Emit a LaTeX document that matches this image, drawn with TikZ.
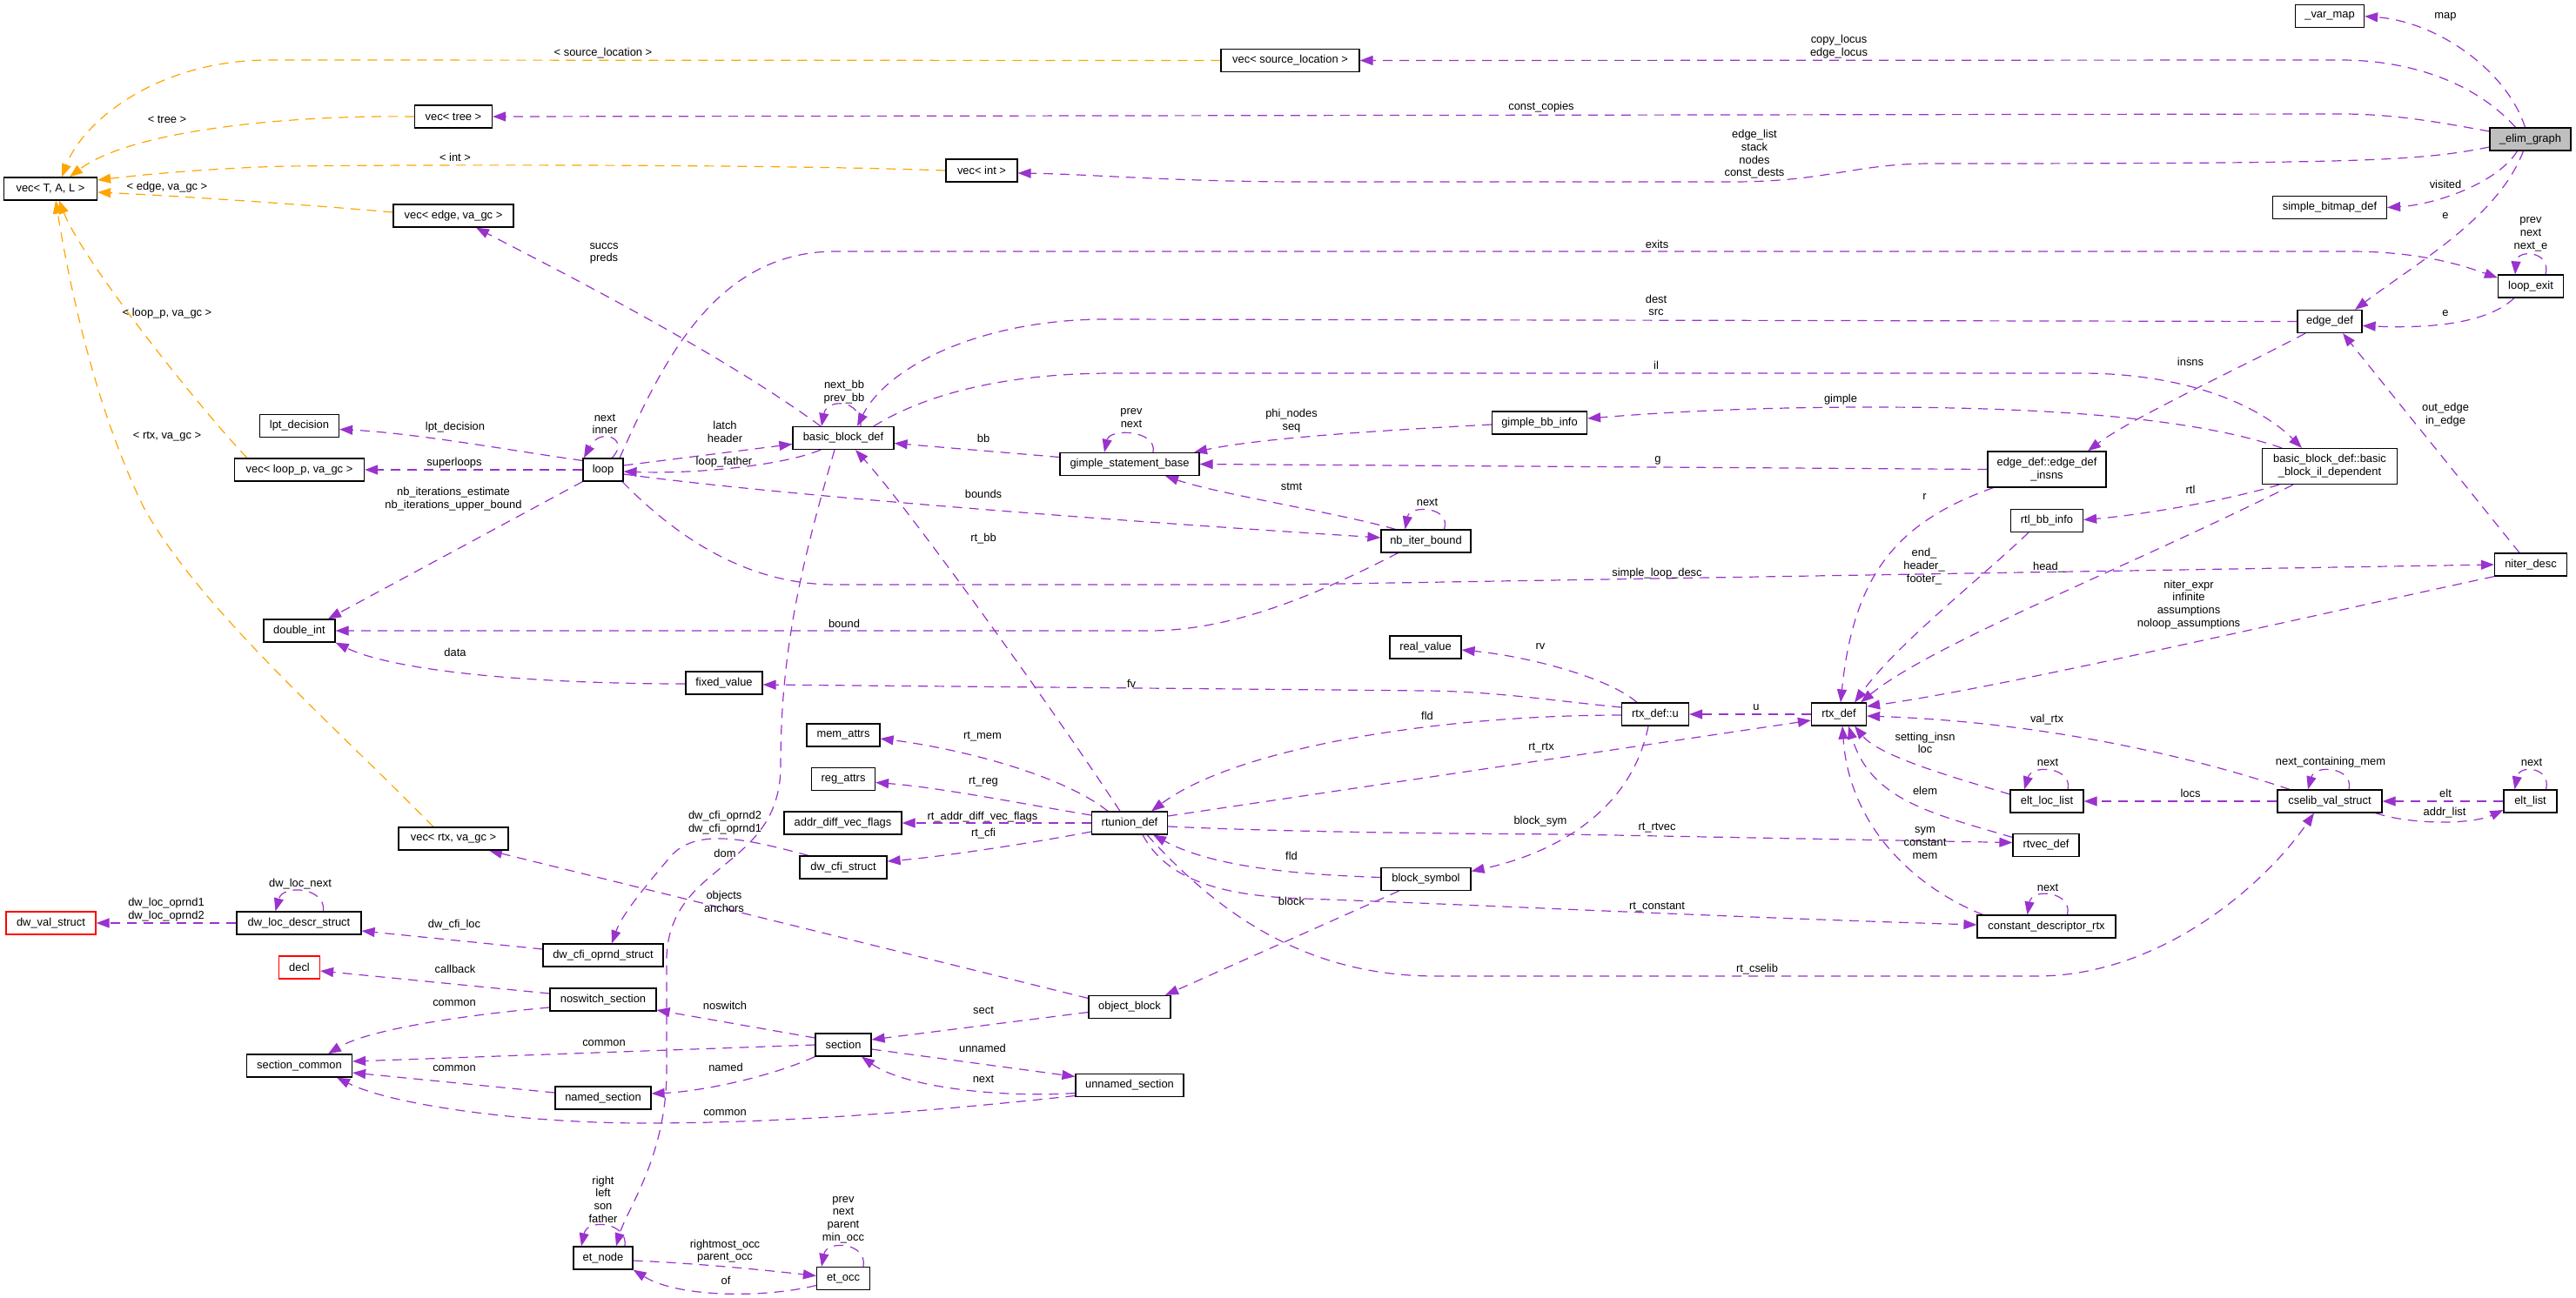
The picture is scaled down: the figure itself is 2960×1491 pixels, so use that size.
\documentclass[tikz,border=0pt]{standalone}
\usepackage{fontspec}
\setmainfont{Liberation Sans}
\usetikzlibrary{arrows.meta,backgrounds}
\definecolor{edgep}{HTML}{9A32CD}
\definecolor{edgeo}{HTML}{FFA500}
\definecolor{rootg}{HTML}{BFBFBF}
\newcommand{\gfont}{\fontsize{12.9}{14.7}\selectfont}
\tikzset{
 cls/.style={draw=black, line width=1.2pt, fill=white, minimum height=26pt, inner sep=0pt, font=\gfont, align=center},
 lbl/.style={font=\gfont, align=center, inner sep=0pt},
 pe/.style={draw=edgep, line width=1.2pt, dash pattern=on 11pt off 8pt, -{Triangle[length=15pt,width=11pt,fill=edgep]}},
 oe/.style={draw=edgeo, line width=1.2pt, dash pattern=on 11pt off 8pt, -{Triangle[length=15pt,width=11pt,fill=edgeo]}},
}
\begin{document}
\begin{tikzpicture}[x=1pt,y=-1pt]
\useasboundingbox (0,0) rectangle (2960,1491);
% ---------- classes ----------
\node[cls, minimum width=107pt] (vtal) at (58,217) {vec< T, A, L >};
\node[cls, minimum width=89pt] (vtree) at (521,134) {vec< tree >};
\node[cls, minimum width=159pt] (vsl) at (1482.5,69.5) {vec< source\_location >};
\node[cls, minimum width=82pt] (vint) at (1128,196) {vec< int >};
\node[cls, minimum width=138pt] (vedge) at (521,248) {vec< edge, va\_gc >};
\node[cls, minimum width=149pt] (vloop) at (344,540) {vec< loop\_p, va\_gc >};
\node[cls, minimum width=126pt] (vrtx) at (521,964) {vec< rtx, va\_gc >};
\node[cls, minimum width=91pt] (lpt) at (344,489.5) {lpt\_decision};
\node[cls, minimum width=46pt] (loop) at (693,540) {loop};
\node[cls, minimum width=82pt] (dint) at (344,725) {double\_int};
\node[cls, minimum width=116pt] (bbd) at (969,503.5) {basic\_block\_def};
\node[cls, minimum width=160pt] (gsb) at (1298,533.5) {gimple\_statement\_base};
\node[cls, minimum width=109pt] (gbi) at (1769,486) {gimple\_bb\_info};
\node[cls, minimum width=79pt] (varmap) at (2677,18.7) {\_var\_map};
\node[cls, minimum width=93pt, fill=rootg] (elim) at (2907.5,160) {\_elim\_graph};
\node[cls, minimum width=131pt] (sbd) at (2677,238.5) {simple\_bitmap\_def};
\node[cls, minimum width=75pt] (lexit) at (2908,329) {loop\_exit};
\node[cls, minimum width=74pt] (edef) at (2677,369.5) {edge\_def};
\node[cls, minimum width=136pt, minimum height=41pt] (edi) at (2352,539.5) {edge\_def::edge\_def\\\_insns};
\node[cls, minimum width=155pt, minimum height=41pt] (bbil) at (2677,536) {basic\_block\_def::basic\\\_block\_il\_dependent};
\node[cls, minimum width=83pt] (rtlbb) at (2352,598.5) {rtl\_bb\_info};
\node[cls, minimum width=83pt] (niter) at (2908,649) {niter\_desc};
\node[cls, minimum width=103pt] (nbib) at (1638.5,622) {nb\_iter\_bound};
\node[cls, minimum width=82pt] (realv) at (1638,744) {real\_value};
\node[cls, minimum width=77pt] (rtxu) at (1902,821) {rtx\_def::u};
\node[cls, minimum width=63pt] (rtx) at (2113,821) {rtx\_def};
\node[cls, minimum width=103pt] (bsym) at (1638.5,1010.5) {block\_symbol};
\node[cls, minimum width=88pt] (fixv) at (832,785) {fixed\_value};
\node[cls, minimum width=84pt] (mem) at (969,845) {mem\_attrs};
\node[cls, minimum width=73pt] (reg) at (969,895.5) {reg\_attrs};
\node[cls, minimum width=135pt] (adv) at (968.5,946) {addr\_diff\_vec\_flags};
\node[cls, minimum width=100pt] (dwcfi) at (969,997) {dw\_cfi\_struct};
\node[cls, minimum width=87pt] (rtu) at (1298,946) {rtunion\_def};
\node[cls, minimum width=84pt] (eltloc) at (2352,921) {elt\_loc\_list};
\node[cls, minimum width=120pt] (cselib) at (2677,921) {cselib\_val\_struct};
\node[cls, minimum width=61pt] (eltl) at (2907.5,921) {elt\_list};
\node[cls, minimum width=76pt] (rtvec) at (2351,971.5) {rtvec\_def};
\node[cls, minimum width=159pt] (cdr) at (2351.5,1065) {constant\_descriptor\_rtx};
\node[cls, minimum width=103pt, draw=red] (dwval) at (58.5,1061) {dw\_val\_struct};
\node[cls, minimum width=143pt] (dwloc) at (343.5,1061) {dw\_loc\_descr\_struct};
\node[cls, minimum width=47pt, draw=red] (decl) at (344,1112) {decl};
\node[cls, minimum width=121pt] (secc) at (344,1225) {section\_common};
\node[cls, minimum width=138pt] (dwop) at (693,1098) {dw\_cfi\_oprnd\_struct};
\node[cls, minimum width=122pt] (nosw) at (693,1149) {noswitch\_section};
\node[cls, minimum width=110pt] (named) at (693,1262) {named\_section};
\node[cls, minimum width=68pt] (etn) at (693,1446) {et\_node};
\node[cls, minimum width=94pt] (objb) at (1298,1157.5) {object\_block};
\node[cls, minimum width=64pt] (sect) at (969,1201) {section};
\node[cls, minimum width=124pt] (unsec) at (1298,1247.5) {unnamed\_section};
\node[cls, minimum width=61pt] (eto) at (969,1469.5) {et\_occ};
% ---------- connectors ----------
\begin{pgfonlayer}{background}
\fill[white] (0,0) rectangle (2960,1491);
% orange template instances
\draw[oe] (vsl.west) -- (310,69) .. controls (180,69) and (95,140) .. ([xshift=13pt]vtal.north);
\draw[oe] (vtree.west) .. controls (330,132) and (150,150) .. ([xshift=22pt]vtal.north);
\draw[oe] (vint.west) .. controls (900,189) and (500,189) .. (330,191) .. controls (250,193) and (170,200) .. ([yshift=10pt]vtal.east);
\draw[oe] ([yshift=4pt]vedge.west) .. controls (350,235) and (200,225) .. ([yshift=-4pt]vtal.east);
\draw[oe] ([xshift=-60pt]vloop.north) .. controls (230,470) and (95,300) .. ([xshift=10pt]vtal.south);
\draw[oe] ([xshift=-23pt]vrtx.north) .. controls (380,830) and (230,700) .. (165,583) .. controls (110,470) and (80,330) .. ([xshift=6pt]vtal.south);
% _elim_graph
\draw[pe] ([xshift=-6pt]elim.north) .. controls (2880,80) and (2800,25) .. (varmap.east);
\draw[pe] ([xshift=-17pt]elim.north) .. controls (2840,90) and (2760,69) .. (2690,69) -- (vsl.east);
\draw[pe] ([yshift=9pt]elim.west) .. controls (2800,140) and (2750,131) .. (2690,131) -- (vtree.east);
\draw[pe] ([yshift=-9pt]elim.west) .. controls (2780,185) and (2720,188) .. (2220,188) .. controls (2130,188) and (2100,209) .. (1990,209) -- (1500,209) .. controls (1350,209) and (1250,200) .. ([yshift=-3pt]vint.east);
\draw[pe] ([xshift=-15pt]elim.south) .. controls (2870,210) and (2800,235) .. (sbd.east);
\draw[pe] ([xshift=-8pt]elim.south) .. controls (2870,250) and (2780,300) .. ([xshift=29pt]edef.north);
% loop / loop_exit / edge_def
\draw[pe] ([xshift=19pt]loop.north) .. controls (760,420) and (820,289) .. (960,289) -- (2700,289) .. controls (2780,289) and (2830,305) .. ([yshift=-4pt]lexit.north west);
\draw[pe] ([xshift=17pt]lexit.north) .. controls (2932,288) and (2892,286) .. ([xshift=-18pt]lexit.north);
\draw[pe] ([xshift=-19pt]lexit.south) .. controls (2860,370) and (2800,378) .. ([yshift=-5pt]edef.east);
\draw[pe] ([xshift=-26pt]bbd.north) .. controls (820,400) and (620,300) .. ([xshift=26pt]vedge.south);
\draw[pe] (edef.west) -- (1270,367) .. controls (1130,367) and (1020,420) .. ([xshift=16pt]bbd.north);
\draw[pe] ([xshift=20pt]bbd.north) .. controls (990,458) and (950,458) .. ([xshift=-25pt]bbd.north);
\draw[pe] ([xshift=35pt]bbd.north) .. controls (1060,455) and (1150,429) .. (1280,429) -- (2390,429) .. controls (2520,429) and (2600,470) .. ([xshift=-32pt]bbil.north);
\draw[pe] ([xshift=-55pt]bbil.north) .. controls (2520,480) and (2350,468) .. (2150,468) .. controls (2000,468) and (1900,475) .. ([yshift=5pt]gbi.east);
\draw[pe] ([xshift=-28pt]edef.south) .. controls (2580,420) and (2450,480) .. ([xshift=47pt]edi.north);
\draw[pe] ([xshift=-13pt]niter.north) -- ([xshift=15pt]edef.south);
% loop
\draw[pe] ([yshift=-3pt]loop.north west) .. controls (600,520) and (480,498) .. ([yshift=-4pt]lpt.east);
\draw[pe] ([xshift=10pt]loop.north) .. controls (725,505) and (690,490) .. ([xshift=-22pt]loop.north);
\draw[pe] (loop.west) -- (vloop.east);
\draw[pe] ([yshift=5pt]loop.east) -- ([yshift=-7pt]bbd.west);
\draw[pe] ([xshift=-26pt]bbd.south) .. controls (900,535) and (800,545) .. ([yshift=-2pt]loop.east);
\draw[pe] ([yshift=8pt]gsb.west) -- ([yshift=-6pt]bbd.east);
\draw[pe] ([xshift=27pt]gsb.north) .. controls (1330,494) and (1275,492) .. ([xshift=-29pt]gsb.north);
\draw[pe] ([yshift=-2pt]gbi.west) .. controls (1600,494) and (1450,503) .. ([xshift=74pt]gsb.north);
\draw[pe] (edi.west) -- (gsb.east);
\draw[pe] ([xshift=-35pt]nbib.north) .. controls (1540,590) and (1400,568) .. ([xshift=41pt]gsb.south);
\draw[pe] ([xshift=21pt]nbib.north) .. controls (1668,582) and (1620,580) .. ([xshift=-24pt]nbib.north);
\draw[pe] ([yshift=-5pt]loop.east) .. controls (900,570) and (1300,600) .. ([yshift=4pt]nbib.west);
\draw[pe] ([xshift=-11pt]rtu.north) .. controls (1200,800) and (1040,580) .. ([xshift=14pt]bbd.south);
\draw[pe] ([xshift=22pt]loop.south) .. controls (780,620) and (860,672) .. (960,672) -- (1480,672) -- (niter.west);
\draw[pe] ([xshift=-32pt]nbib.south) .. controls (1520,680) and (1420,725) .. (1320,725) -- (dint.east);
\draw[pe] (loop.south west) -- ([xshift=33pt]dint.north);
\draw[pe] ([yshift=-1pt]fixv.west) .. controls (600,786) and (450,770) .. (dint.south east);
% rtx family
\draw[pe] ([yshift=8pt]rtxu.west) .. controls (1780,805) and (1720,795) .. (1640,794) -- ([yshift=-2pt]fixv.east);
\draw[pe] ([xshift=-21pt]rtxu.north) .. controls (1850,780) and (1760,755) .. ([yshift=-3pt]realv.east);
\draw[pe] (rtx.west) -- (rtxu.east);
\draw[pe] ([yshift=8pt]rtu.east) -- ([yshift=-7pt]rtx.west);
\draw[pe] ([yshift=-1pt]rtxu.west) .. controls (1650,822) and (1420,860) .. ([xshift=25pt]rtu.north);
\draw[pe] ([xshift=-25pt]rtu.north) .. controls (1220,890) and (1100,860) .. ([yshift=-4pt]mem.east);
\draw[pe] ([yshift=9pt]rtu.west) .. controls (1180,925) and (1080,905) .. ([yshift=-4pt]reg.east);
\draw[pe] (rtu.west) -- (adv.east);
\draw[pe] ([yshift=-10pt]rtu.west) .. controls (1180,970) and (1080,985) .. ([yshift=7pt]dwcfi.east);
\draw[pe] ([yshift=-4pt]rtu.east) .. controls (1450,955) and (1600,958) .. (1800,959) -- ([yshift=3pt]rtvec.west);
\draw[pe] ([xshift=15pt]rtu.south) .. controls (1340,1010) and (1400,1030) .. (1500,1033) .. controls (1700,1040) and (2000,1055) .. ([yshift=2pt]cdr.west);
\draw[pe] ([xshift=20pt]rtu.south) .. controls (1400,1050) and (1500,1122) .. (1650,1122) -- (2340,1122) .. controls (2480,1122) and (2600,1020) .. ([xshift=-18pt]cselib.south);
\draw[pe] ([xshift=-8pt]rtxu.south) .. controls (1875,930) and (1790,980) .. ([yshift=9pt]bsym.east);
\draw[pe] ([yshift=2pt]bsym.west) .. controls (1480,1005) and (1390,995) .. ([xshift=27pt]rtu.south);
\draw[pe] ([xshift=-31pt]bsym.south) -- ([xshift=41pt]objb.north);
% sections
\draw[pe] ([yshift=10pt]objb.west) -- ([xshift=41pt]vrtx.south);
\draw[pe] ([yshift=-6pt]objb.west) -- ([yshift=6pt]sect.east);
\draw[pe] ([yshift=8pt]sect.west) -- ([yshift=-12pt]nosw.east);
\draw[pe] (sect.south west) .. controls (880,1240) and (800,1255) .. ([yshift=5pt]named.east);
\draw[pe] ([yshift=-5pt]sect.east) -- ([yshift=10pt]unsec.west);
\draw[pe] ([yshift=-9pt]unsec.west) .. controls (1150,1262) and (1040,1250) .. ([xshift=21pt]sect.south);
\draw[pe] ([yshift=-12pt]unsec.west) .. controls (1000,1285) and (850,1291) .. (740,1291) .. controls (600,1291) and (450,1270) .. ([xshift=43pt]secc.south);
\draw[pe] (sect.west) -- ([yshift=5pt]secc.east);
\draw[pe] ([yshift=6pt]named.west) -- ([yshift=-8pt]secc.east);
\draw[pe] ([yshift=-9pt]nosw.west) .. controls (520,1168) and (420,1185) .. ([xshift=33pt]secc.north);
\draw[pe] ([yshift=7pt]nosw.west) -- ([yshift=-4pt]decl.east);
\draw[pe] ([yshift=7pt]dwop.west) -- ([yshift=-9pt]dwloc.east);
\draw[pe] (dwloc.west) -- (dwval.east);
\draw[pe] ([xshift=28pt]dwloc.north) .. controls (375,1020) and (325,1016) .. ([xshift=-27pt]dwloc.north);
\draw[pe] ([xshift=-40pt]dwcfi.north) .. controls (860,965) and (800,950) .. (770,985) .. controls (745,1015) and (715,1050) .. ([xshift=10pt]dwop.north);
\draw[pe] ([xshift=-10pt]bbd.south) .. controls (920,650) and (897,750) .. (897,880) .. controls (897,1000) and (770,990) .. (766,1100) -- (766,1230) .. controls (766,1330) and (720,1390) .. ([xshift=15pt]etn.north);
\draw[pe] ([xshift=25pt]etn.north) .. controls (722,1405) and (675,1400) .. ([xshift=-25pt]etn.north);
\draw[pe] ([yshift=-3pt]etn.east) .. controls (800,1452) and (880,1460) .. ([yshift=3pt]eto.west);
\draw[pe] ([yshift=-8pt]eto.west) .. controls (880,1492) and (780,1492) .. (etn.south east);
\draw[pe] ([xshift=23pt]eto.north) .. controls (997,1428) and (950,1425) .. ([xshift=-25pt]eto.north);
% right side rtx users
\draw[pe] ([xshift=-58pt]bbil.south) .. controls (2560,575) and (2460,592) .. ([yshift=1pt]rtlbb.east);
\draw[pe] ([xshift=-21pt]rtlbb.south) .. controls (2270,670) and (2180,740) .. ([xshift=18pt]rtx.north);
\draw[pe] ([xshift=7pt]edi.south west) .. controls (2180,600) and (2130,660) .. ([xshift=2pt]rtx.north);
\draw[pe] ([xshift=-42pt]bbil.south) .. controls (2450,650) and (2220,740) .. ([xshift=25pt]rtx.north);
\draw[pe] (niter.south west) .. controls (2600,720) and (2300,790) .. ([yshift=9pt]rtx.east);
\draw[pe] ([xshift=-46pt]cselib.north) .. controls (2520,870) and (2350,830) .. ([yshift=-2pt]rtx.east);
\draw[pe] ([yshift=8pt]eltloc.west) .. controls (2250,895) and (2160,870) .. ([xshift=18pt]rtx.south);
\draw[pe] ([xshift=24pt]eltloc.north) .. controls (2382,882) and (2335,878) .. ([xshift=-26pt]eltloc.north);
\draw[pe] (cselib.west) -- (eltloc.east);
\draw[pe] ([xshift=22pt]cselib.north) .. controls (2705,882) and (2660,878) .. ([xshift=-25pt]cselib.north);
\draw[pe] (eltl.west) -- (cselib.east);
\draw[pe] ([xshift=-8pt]cselib.south east) .. controls (2770,948) and (2840,948) .. ([yshift=-10pt]eltl.west);
\draw[pe] ([xshift=18pt]eltl.north) .. controls (2932,882) and (2895,878) .. ([xshift=-18pt]eltl.north);
\draw[pe] ([yshift=9pt]rtvec.west) .. controls (2220,935) and (2150,920) .. ([xshift=11pt]rtx.south);
\draw[pe] ([xshift=-73pt]cdr.north) .. controls (2200,1020) and (2125,950) .. ([xshift=4pt]rtx.south);
\draw[pe] ([xshift=24pt]cdr.north) .. controls (2382,1025) and (2335,1020) .. ([xshift=-22pt]cdr.north);
\end{pgfonlayer}
% ---------- labels ----------
\node[lbl] (l1) at (693,61) {< source\_location >};
\node[lbl] (l2) at (192,137) {< tree >};
\node[lbl] (l3) at (523,181) {< int >};
\node[lbl] (l4) at (192,215) {< edge, va\_gc >};
\node[lbl] (l5) at (192,360) {< loop\_p, va\_gc >};
\node[lbl] (l6) at (192,502) {< rtx, va\_gc >};
\node[lbl] (l7) at (2810,19) {map};
\node[lbl] (l8) at (2113,54) {copy\_locus\\edge\_locus};
\node[lbl] (l9) at (1771,123) {const\_copies};
\node[lbl] (l10) at (2016,177.5) {edge\_list\\stack\\nodes\\const\_dests};
\node[lbl] (l11) at (2810,212) {visited};
\node[lbl] (l12) at (2810,248) {e};
\node[lbl] (l13) at (1904,281) {exits};
\node[lbl] (l14) at (2908,269.5) {prev\\next\\next\_e};
\node[lbl] (l15) at (2810,360) {e};
\node[lbl] (l16) at (694,291.5) {succs\\preds};
\node[lbl] (l17) at (1903,351) {dest\\src};
\node[lbl] (l18) at (970,451) {next\_bb\\prev\_bb};
\node[lbl] (l19) at (1903,420) {il};
\node[lbl] (l20) at (2115,459) {gimple};
\node[lbl] (l21) at (2517,416) {insns};
\node[lbl] (l22) at (2810,476.5) {out\_edge\\in\_edge};
\node[lbl] (l23) at (523,491) {lpt\_decision};
\node[lbl] (l24) at (695,487.5) {next\\inner};
\node[lbl] (l25) at (522,532) {superloops};
\node[lbl] (l26) at (833,496.5) {latch\\header};
\node[lbl] (l27) at (832,531) {loop\_father};
\node[lbl] (l28) at (1130,504) {bb};
\node[lbl] (l29) at (1300,480.5) {prev\\next};
\node[lbl] (l30) at (1484,483.5) {phi\_nodes\\seq};
\node[lbl] (l31) at (1905,529) {g};
\node[lbl] (l32) at (1484,559) {stmt};
\node[lbl] (l33) at (1640,577) {next};
\node[lbl] (l34) at (1130,568) {bounds};
\node[lbl] (l35) at (1130,619) {rt\_bb};
\node[lbl] (l36) at (1904,659) {simple\_loop\_desc};
\node[lbl] (l37) at (970,717) {bound};
\node[lbl] (l38) at (521,574) {nb\_iterations\_estimate\\nb\_iterations\_upper\_bound};
\node[lbl] (l39) at (523,750) {data};
\node[lbl] (l40) at (1300,786) {fv};
\node[lbl] (l41) at (1770,743) {rv};
\node[lbl] (l42) at (2018,813) {u};
\node[lbl] (l43) at (1771,860) {rt\_rtx};
\node[lbl] (l44) at (1640,823) {fld};
\node[lbl] (l45) at (1129,847) {rt\_mem};
\node[lbl] (l46) at (1130,899) {rt\_reg};
\node[lbl] (l47) at (1129,939) {rt\_addr\_diff\_vec\_flags};
\node[lbl] (l48) at (1130,958) {rt\_cfi};
\node[lbl] (l49) at (1904,952) {rt\_rtvec};
\node[lbl] (l50) at (1904,1043) {rt\_constant};
\node[lbl] (l51) at (2019,1114) {rt\_cselib};
\node[lbl] (l52) at (1770,944) {block\_sym};
\node[lbl] (l53) at (1484,984) {fld};
\node[lbl] (l54) at (1484,1036) {block};
\node[lbl] (l55) at (832,1036.5) {objects\\anchors};
\node[lbl] (l56) at (1130,1161) {sect};
\node[lbl] (l57) at (833,1156) {noswitch};
\node[lbl] (l58) at (834,1227) {named};
\node[lbl] (l59) at (1129,1205) {unnamed};
\node[lbl] (l60) at (1130,1240) {next};
\node[lbl] (l61) at (833,1279) {common};
\node[lbl] (l62) at (694,1199) {common};
\node[lbl] (l63) at (522,1228) {common};
\node[lbl] (l64) at (522,1153) {common};
\node[lbl] (l65) at (523,1114) {callback};
\node[lbl] (l66) at (522,1063) {dw\_cfi\_loc};
\node[lbl] (l67) at (191,1046) {dw\_loc\_oprnd1\\dw\_loc\_oprnd2};
\node[lbl] (l68) at (345,1016) {dw\_loc\_next};
\node[lbl] (l69) at (833,946) {dw\_cfi\_oprnd2\\dw\_cfi\_oprnd1};
\node[lbl] (l70) at (833,981) {dom};
\node[lbl] (l71) at (693,1378.5) {right\\left\\son\\father};
\node[lbl] (l72) at (833,1438) {rightmost\_occ\\parent\_occ};
\node[lbl] (l73) at (834,1472) {of};
\node[lbl] (l74) at (969,1402) {prev\\next\\parent\\min\_occ};
\node[lbl] (l75) at (2517,563) {rtl};
\node[lbl] (l76) at (2211,651) {end\_\\header\_\\footer\_};
\node[lbl] (l77) at (2211.5,571) {r};
\node[lbl] (l78) at (2354,652) {head\_};
\node[lbl] (l79) at (2515,695) {niter\_expr\\infinite\\assumptions\\noloop\_assumptions};
\node[lbl] (l80) at (2352,827) {val\_rtx};
\node[lbl] (l81) at (2212,854) {setting\_insn\\loc};
\node[lbl] (l82) at (2353,876) {next};
\node[lbl] (l83) at (2517,912) {locs};
\node[lbl] (l84) at (2678,876) {next\_containing\_mem};
\node[lbl] (l85) at (2810,912) {elt};
\node[lbl] (l86) at (2809,934) {addr\_list};
\node[lbl] (l87) at (2909,876) {next};
\node[lbl] (l88) at (2212,909) {elem};
\node[lbl] (l89) at (2212,969) {sym\\constant\\mem};
\node[lbl] (l90) at (2353,1020) {next};
\end{tikzpicture}
\end{document}
